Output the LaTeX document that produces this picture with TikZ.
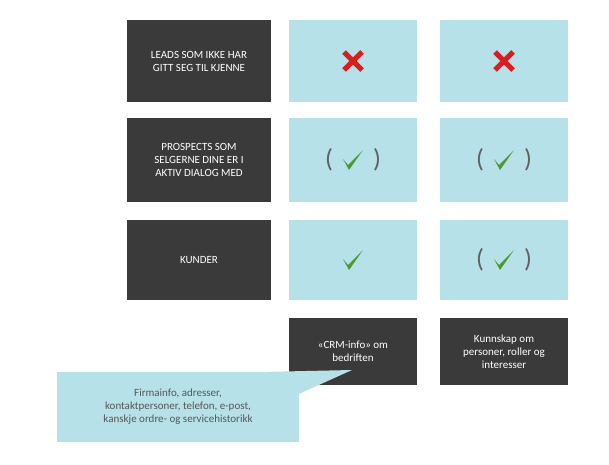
\documentclass[tikz,border=0pt]{standalone}
\usepackage{fontspec}
\setmainfont{Carlito}
\usetikzlibrary{positioning}
\definecolor{darkbox}{HTML}{3A3A3A}
\definecolor{lightblue}{HTML}{B7E1E8}
\definecolor{okgreen}{HTML}{4A9A2E}
\definecolor{nogood}{HTML}{D81E1E}
\newcommand{\okmark}{\tikz[x=1pt,y=1pt]\fill[okgreen] (0,9) -- (5,3) -- (20,18) -- (6,-2) -- cycle;}
\newcommand{\nomark}{\tikz[x=1pt,y=1pt,line width=5pt,nogood]{\draw (0,0) -- (18,18); \draw (0,18) -- (18,0);}}
\begin{document}
\begin{tikzpicture}[x=1pt,y=-1pt]
    \tikzstyle{rowhead}=[fill=darkbox,text=white,font=\fontsize{11}{13}\selectfont,align=center,minimum width=144pt,inner sep=2pt]
    \tikzstyle{cell}=[fill=lightblue,minimum width=128pt,inner sep=0pt]
    \tikzstyle{colfoot}=[rowhead,minimum width=128pt,minimum height=67pt]
    \tikzstyle{paren}=[text=darkbox!80,font=\fontsize{26}{26}\selectfont]
    \useasboundingbox (0,0) rectangle (609,464);

    % Row headings
    \node[rowhead,minimum height=82pt] (R-1) at (199,61) {LEADS SOM IKKE HAR\\GITT SEG TIL KJENNE};
    \node[rowhead,minimum height=84pt] (R-2) at (199,160) {PROSPECTS SOM\\SELGERNE DINE ER I\\AKTIV DIALOG MED};
    \node[rowhead,minimum height=80pt] (R-3) at (199,260) {KUNDER};

    % Cells
    \foreach \r / \y / \h in {1/61/82,2/160/84,3/260/80} {
        \node[cell,minimum height=\h pt] (A-\r) at (353,\y) {};
        \node[cell,minimum height=\h pt] (B-\r) at (504,\y) {};
    }
    \node at (A-1) {\nomark};
    \node at (B-1) {\nomark};
    \node at (A-2) {\okmark};
    \node at (B-2) {\okmark};
    \node at (A-3) {\okmark};
    \node at (B-3) {\okmark};
    \foreach \c in {A-2,B-2,B-3} {
        \node[paren] at ([xshift=-24pt]\c) {(};
        \node[paren] at ([xshift=24pt]\c) {)};
    }

    % Column footers
    \node[colfoot] (F-1) at (353,351.5) {«CRM-info» om\\bedriften};
    \node[colfoot] (F-2) at (504,351.5) {Kunnskap om\\personer, roller og\\interesser};

    % Callout
    \coordinate (tip) at (352,370);
    \node[fill=lightblue,text=darkbox!85,font=\fontsize{11}{13}\selectfont,align=center,minimum width=242pt,minimum height=70pt,inner sep=2pt] (C) at (178,407)
        {Firmainfo, adresser,\\kontaktpersoner, telefon, e-post,\\kanskje ordre- og servicehistorikk};
    \fill[lightblue] ([xshift=-30pt]C.north east) -- (tip) -- ([yshift=-22pt]C.north east) -- cycle;
\end{tikzpicture}
\end{document}
